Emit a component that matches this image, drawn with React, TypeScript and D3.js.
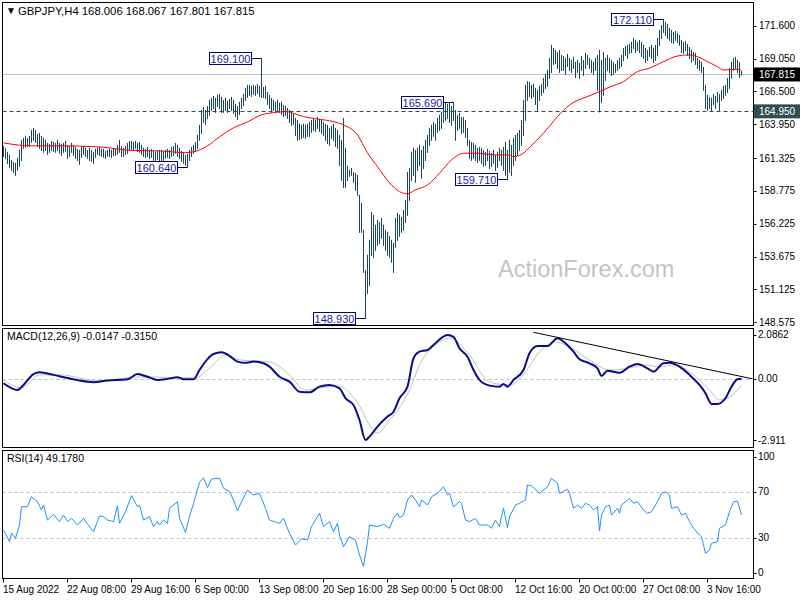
import React from "react";
import * as d3 from "d3";

// ---------- DATA ----------
const highs = [
  162.27,162.12,161.81,161.57,161.18,161.03,160.95,161.34,161.96,162.74,
  162.89,163.05,162.89,163.05,163.51,163.67,163.51,163.20,163.28,163.05,
  162.89,162.74,162.50,162.43,162.66,162.58,162.50,162.74,162.50,162.43,
  162.50,162.66,162.35,162.27,162.50,162.35,162.19,162.04,161.96,162.19,
  162.27,162.12,161.96,162.12,161.96,161.81,162.04,162.12,162.19,162.04,
  162.04,161.88,161.96,162.04,161.96,162.12,162.04,162.35,162.74,162.27,
  162.12,162.27,162.50,162.66,162.66,162.58,162.66,162.50,162.58,162.35,
  162.12,162.04,162.19,161.96,162.04,161.88,161.81,161.88,161.96,161.96,
  161.88,161.96,162.04,161.96,162.19,162.27,162.50,162.35,162.12,161.88,
  161.73,161.57,161.65,161.96,162.19,162.35,162.58,163.12,163.90,165.06,
  165.30,165.06,165.37,165.84,166.00,166.15,166.00,166.23,166.31,166.07,
  165.84,166.00,165.76,165.92,166.07,165.84,165.53,165.37,165.69,166.00,
  166.31,166.77,167.00,167.00,166.93,167.00,166.93,167.08,166.93,169.10,
  166.85,166.93,166.46,166.23,166.00,165.84,165.69,165.84,165.61,165.69,
  165.45,165.37,165.22,165.06,164.91,164.75,164.44,164.29,163.98,163.90,
  163.98,163.90,163.98,164.13,164.29,164.44,164.29,164.52,164.37,164.29,
  164.13,163.98,163.90,163.67,163.82,163.98,163.67,163.51,163.12,162.74,
  164.44,162.12,160.72,160.41,160.56,160.25,160.17,160.02,158.47,157.85,
  155.75,152.65,153.81,154.98,157.15,156.92,156.14,156.53,156.37,156.68,
  156.14,155.75,155.60,155.29,154.98,154.74,156.68,157.07,156.92,156.76,
  157.30,158.08,160.25,160.56,161.81,162.12,161.96,162.12,162.35,161.96,
  162.27,162.74,163.12,163.67,163.90,164.13,163.98,164.44,164.68,164.91,
  165.45,165.60,165.53,165.62,165.37,165.69,165.06,164.68,164.83,164.52,
  164.52,164.29,163.67,162.74,162.58,162.50,162.35,162.12,162.19,162.12,
  161.96,161.81,162.04,161.88,161.73,161.96,161.57,161.81,162.12,161.96,
  162.19,162.58,161.96,162.74,162.35,162.89,163.12,163.28,163.51,164.29,
  165.84,167.00,167.31,167.24,167.00,167.08,166.77,166.62,166.93,167.08,
  167.55,167.86,168.17,169.10,170.11,169.88,169.72,169.56,169.72,169.33,
  169.25,169.10,169.41,169.10,168.94,169.18,168.79,168.94,168.71,169.25,
  168.94,169.49,169.33,169.10,168.94,168.79,169.10,169.33,169.72,168.94,
  169.56,169.10,169.33,169.10,168.94,168.79,168.63,168.94,169.10,169.33,
  169.88,170.03,170.11,170.19,170.34,170.65,170.50,170.34,170.50,170.34,
  170.11,169.88,169.72,169.95,170.11,169.88,170.11,170.65,171.27,171.66,
  172.11,171.89,171.74,171.43,171.27,171.12,171.19,171.04,170.88,170.50,
  170.34,170.42,170.19,169.95,169.72,169.56,169.49,169.10,168.94,168.79,
  168.40,167.00,166.23,166.07,166.00,166.31,166.15,166.46,166.31,166.62,
  166.93,167.00,167.55,168.32,168.79,169.10,169.18,168.94,168.79,168.07,
];
const lows = [
  161.49,161.34,160.95,160.64,160.41,160.25,160.02,160.41,160.72,161.18,
  162.12,162.19,162.27,162.27,162.58,162.74,162.58,162.27,162.12,161.96,
  161.81,161.96,161.65,161.81,161.96,161.88,161.81,161.96,161.73,161.57,
  161.81,161.88,161.34,161.49,161.81,161.57,161.34,161.18,160.87,161.42,
  161.65,161.49,161.34,161.18,161.11,160.95,161.42,161.65,161.57,161.49,
  161.42,161.34,161.49,161.49,161.42,161.57,161.57,161.65,161.81,161.49,
  161.49,161.65,161.73,161.96,162.04,161.96,162.12,161.88,161.81,161.65,
  161.49,161.42,161.49,161.34,161.42,161.18,161.11,161.26,161.18,161.03,
  161.18,161.34,161.42,161.34,161.49,161.57,161.73,161.49,161.34,161.11,
  160.95,160.80,160.64,161.18,161.49,161.73,161.88,162.12,162.74,163.28,
  164.13,163.98,164.44,164.68,165.06,165.22,164.91,165.37,165.22,164.91,
  164.91,165.06,164.91,165.22,165.06,164.83,164.60,164.37,164.75,165.22,
  165.45,165.84,166.07,166.23,166.15,166.31,166.23,166.38,166.15,166.07,
  166.07,166.00,165.53,165.22,164.91,165.06,164.91,165.06,164.91,164.75,
  164.60,164.68,164.44,164.13,163.90,163.98,163.12,162.74,162.81,162.89,
  162.97,162.89,163.05,163.05,163.36,163.51,163.43,163.67,163.43,163.28,
  163.12,162.74,162.50,162.35,162.89,162.74,162.27,162.12,160.80,159.63,
  159.09,159.09,159.63,159.94,160.02,159.48,158.86,158.47,155.60,155.60,
  152.49,148.93,150.86,151.48,153.81,153.66,154.20,154.59,154.74,155.13,
  154.59,154.20,153.81,153.66,153.27,152.49,154.43,154.98,155.29,155.60,
  155.75,156.37,156.92,158.08,159.63,160.02,159.48,160.41,160.80,159.79,
  160.56,161.18,161.81,162.35,162.74,163.05,162.74,163.36,163.51,163.67,
  164.13,164.29,164.44,164.13,163.90,164.29,162.74,163.51,163.67,163.28,
  163.36,162.97,162.35,161.34,161.18,161.34,161.18,161.03,161.18,160.95,
  160.72,160.80,161.18,160.56,160.72,160.95,160.41,160.64,161.18,160.80,
  160.41,160.02,159.71,160.25,160.02,160.80,161.18,161.57,161.96,162.35,
  163.12,164.29,165.84,166.15,166.00,166.15,165.53,165.06,165.84,166.23,
  166.46,166.77,166.93,167.55,168.01,168.63,168.71,168.32,168.01,168.17,
  168.17,167.86,168.48,168.17,168.01,168.32,167.62,168.01,167.55,168.17,
  167.78,168.32,168.63,168.32,168.01,167.86,168.17,166.62,164.95,165.69,
  166.23,167.39,168.17,168.01,167.78,167.86,168.01,168.17,168.32,168.48,
  168.94,169.33,169.10,169.49,169.56,169.88,169.56,169.72,169.56,169.25,
  169.10,168.79,168.94,169.25,169.10,168.79,168.94,169.33,170.11,170.65,
  171.12,170.88,170.65,170.50,170.34,170.26,170.50,170.34,170.11,169.56,
  169.49,169.72,169.33,169.10,168.79,168.94,168.63,168.32,168.17,168.01,
  166.62,165.22,165.06,165.22,165.06,165.53,165.22,165.69,165.06,165.84,
  166.00,166.23,166.46,166.77,167.55,168.17,168.32,168.01,167.62,167.80,
];

const maIdx = [0,14,28,48,64,78,91,95,102,108,115,122,129,135,142,145,150,157,165,170,177,182,187,193,198,202,206,212,218,224,230,237,245,252,255,260,263,270,277,283,292,298,303,310,317,323,330,337,342,347,352,357,360,367,369];
const maVal = [162.50,162.27,162.27,162.19,161.92,161.88,161.75,161.81,162.27,162.97,163.67,164.13,164.68,164.85,164.93,164.80,164.54,164.36,164.15,163.90,163.12,161.73,160.66,159.40,158.72,158.55,158.86,159.24,160.15,161.18,161.70,161.70,161.57,161.57,161.44,161.70,162.15,163.26,164.54,165.45,166.10,166.48,166.83,167.26,168.04,168.30,168.81,169.25,169.33,169.20,168.81,168.42,168.16,168.22,168.11];

const macdIdx = [0,7,10,15,18,25,32,38,45,52,62,67,72,77,82,87,90,95,98,102,105,109,113,117,121,125,130,133,138,143,148,153,158,163,168,171,175,178,181,183,187,192,195,198,202,205,208,212,215,222,225,228,232,235,238,243,248,250,252,255,260,263,267,272,277,280,285,288,293,297,299,302,308,313,317,322,325,330,333,338,343,348,351,354,357,361,364,367,369];
const macdVal = [-0.22,-0.54,-0.30,0.22,0.30,0.18,0.03,-0.09,-0.17,-0.09,-0.03,0.22,0.09,-0.06,-0.01,0.07,-0.03,-0.03,0.41,0.93,1.17,1.25,1.08,0.81,0.75,0.81,0.73,0.57,0.09,-0.14,-0.62,-0.65,-0.38,-0.30,-0.46,-0.93,-1.25,-1.96,-2.91,-2.75,-2.28,-1.80,-1.57,-0.93,-0.38,0.97,1.28,1.36,1.60,2.07,1.98,1.44,1.04,0.41,-0.06,-0.33,-0.38,-0.25,-0.38,-0.06,0.41,1.21,1.55,1.55,1.92,1.76,1.28,0.92,0.73,0.49,0.13,0.37,0.28,0.57,0.70,0.49,0.33,0.73,0.75,0.57,0.18,-0.30,-0.69,-1.20,-1.20,-0.93,-0.38,-0.03,-0.01];

const sigIdx = [0,9,18,28,48,66,73,96,103,111,118,133,143,151,158,168,176,187,193,198,203,208,218,223,233,243,253,261,268,276,283,293,303,313,321,328,336,343,353,358,363,369];
const sigVal = [-0.06,-0.44,0.18,0.18,-0.11,0.08,0.08,0.03,0.51,1.12,0.89,0.79,0.18,-0.54,-0.44,-0.35,-1.01,-2.58,-1.96,-1.39,-0.54,0.65,1.74,1.93,1.12,-0.16,-0.30,0.32,1.27,1.74,1.50,0.89,0.41,0.51,0.65,0.56,0.65,0.32,-0.54,-1.01,-0.87,-0.32];

const rsiIdx = [0,3,4,6,8,9,12,14,17,19,20,22,25,28,30,32,34,37,40,43,45,48,50,52,55,57,58,61,64,67,68,70,73,75,77,78,80,82,83,87,88,91,93,95,98,100,102,104,108,110,113,115,117,119,122,125,128,131,133,138,140,143,146,149,152,154,158,160,163,165,167,168,170,173,176,178,180,182,183,187,190,193,195,197,198,200,202,204,206,208,209,212,214,217,220,222,223,225,228,229,231,233,236,238,242,244,246,248,249,250,252,253,256,258,261,262,264,268,272,274,277,278,282,283,285,287,289,291,293,295,297,298,299,301,303,304,307,308,309,311,313,315,317,320,322,324,327,329,331,333,334,337,339,341,343,345,348,349,351,353,354,357,358,361,363,365,367,369];
const rsiVal = [36.8,26.7,34.0,29.7,41.1,56.9,56.9,65.5,61.2,54.1,58.4,45.4,50.3,44.0,49.7,44.0,46.9,41.1,46.9,39.7,35.3,48.9,48.3,45.4,44.0,57.8,42.6,52.6,66.4,56.9,58.4,45.4,48.3,39.7,44.0,41.1,45.4,42.6,55.5,61.2,46.9,34.8,48.3,59.8,77.9,81.9,73.3,80.8,81.4,72.8,69.8,62.7,53.2,61.2,71.3,67.0,68.4,55.5,45.4,42.6,46.9,34.0,23.9,29.1,28.2,39.7,51.2,39.7,44.0,35.3,42.6,32.5,22.4,31.0,28.2,15.3,5.2,26.7,41.1,39.7,41.7,38.3,46.9,51.2,47.5,49.7,62.7,67.0,62.7,56.9,62.7,58.4,65.5,68.4,74.1,67.0,68.4,56.9,61.2,59.8,45.4,44.0,46.9,41.1,41.1,38.3,45.4,39.7,48.3,55.5,38.8,48.3,58.4,59.8,62.7,75.6,75.0,68.4,74.1,81.4,77.1,68.4,71.9,68.4,55.5,58.4,55.5,59.8,58.4,54.1,56.9,35.9,49.7,56.9,58.4,49.7,55.5,51.2,58.4,61.2,64.1,59.8,61.2,54.1,51.2,52.6,61.2,68.4,69.8,67.0,55.5,56.9,49.7,51.2,44.0,38.3,32.5,31.0,16.7,19.6,25.3,26.7,38.3,41.1,52.6,61.2,61.8,49.7];

const trendIdx = [265, 374.5];
const trendVal = [2.2, -0.01];

const priceTicks = [171.6, 169.05, 166.5, 163.95, 161.325, 158.775, 156.225, 153.675, 151.125, 148.575];
const priceTickLabels = ["171.600","169.050","166.500","163.950","161.325","158.775","156.225","153.675","151.125","148.575"];
const macdTicks = [2.0862, 0, -2.911];
const macdTickLabels = ["2.0862", "0.00", "-2.911"];
const rsiTicks = [100, 70, 30, 0];
const rsiTickLabels = ["100", "70", "30", "0"];
const rsiLevels = [70, 30];

const timeIdx = [0, 32, 64, 96, 128, 160, 192, 224, 256, 288, 320, 352];
const timeLabels = ["15 Aug 2022","22 Aug 08:00","29 Aug 16:00","6 Sep 00:00","13 Sep 08:00","20 Sep 16:00","28 Sep 00:00","5 Oct 08:00","12 Oct 16:00","20 Oct 00:00","27 Oct 08:00","3 Nov 16:00"];

const annIdx = [129, 92, 181, 225, 252, 330];
const annVal = [169.10, 160.64, 148.93, 165.69, 159.71, 172.11];
const annLabels = ["169.100", "160.640", "148.930", "165.690", "159.710", "172.110"];

const lastPrice = 167.815;
const supportLevel = 164.95;
const titleText = "GBPJPY,H4  168.006 168.067 167.801 167.815";
const macdTitle = "MACD(12,26,9) -0.0147 -0.3150";
const rsiTitle = "RSI(14) 49.1780";

// ---------- LAYOUT ----------
const W = 800, H = 600;
const LEFT = 2.5, RIGHT = 753.5;
const main = { top: 2.5, bottom: 325.5 };
const macdP = { top: 328.5, bottom: 447.5 };
const rsiP = { top: 450.5, bottom: 578.5 };
const FONT = "'Liberation Sans', Arial, sans-serif";
const BAR = "#18475b";

export default function App() {
  const x = d3.scaleLinear().domain([0, 369]).range([3.5, 741.5]);
  const yP = d3.scaleLinear().domain([171.6, 148.575]).range([25.7, 322.3]);
  const yM = d3.scaleLinear().domain([2.0862, -2.911]).range([334.7, 440]);
  const yR = d3.scaleLinear().domain([100, 0]).range([456.7, 572.7]);

  const maLine = d3.line<number>().x((_, i) => x(maIdx[i])).y((d) => yP(d)).curve(d3.curveMonotoneX);
  const macdLine = d3.line<number>().x((_, i) => x(macdIdx[i])).y((d) => yM(d)).curve(d3.curveMonotoneX);
  const sigLine = d3.line<number>().x((_, i) => x(sigIdx[i])).y((d) => yM(d)).curve(d3.curveMonotoneX);
  const rsiLine = d3.line<number>().x((_, i) => x(rsiIdx[i])).y((d) => yR(d));
  const trendLine = d3.line<number>().x((_, i) => x(trendIdx[i])).y((d) => yM(d));

  return (
    <svg width={W} height={H} style={{ position: "absolute", left: 0, top: 0, background: "#fff" }} fontFamily={FONT}>
      <defs>
        <clipPath id="cMain"><rect x={LEFT} y={main.top} width={RIGHT - LEFT} height={main.bottom - main.top} /></clipPath>
        <clipPath id="cMacd"><rect x={LEFT} y={macdP.top} width={RIGHT - LEFT} height={macdP.bottom - macdP.top} /></clipPath>
        <clipPath id="cRsi"><rect x={LEFT} y={rsiP.top} width={RIGHT - LEFT} height={rsiP.bottom - rsiP.top} /></clipPath>
      </defs>
      <rect x={0} y={0} width={W} height={H} fill="#fff" />

      {/* watermark */}
      <text x={498} y={277} fontSize={23.5} fill="#c4c4c4">ActionForex.com</text>

      {/* main panel */}
      <g clipPath="url(#cMain)">
        <line x1={LEFT} x2={RIGHT} y1={Math.round(yP(lastPrice)) + 0.5} y2={Math.round(yP(lastPrice)) + 0.5} stroke="#c0c0c0" strokeWidth={1} />
        <line x1={LEFT} x2={RIGHT} y1={Math.round(yP(supportLevel)) + 0.5} y2={Math.round(yP(supportLevel)) + 0.5} stroke="#2f4f4f" strokeWidth={1} strokeDasharray="4,3" />
        {highs.map((h, i) => (
          <line key={i} x1={x(i)} x2={x(i)} y1={yP(h)} y2={yP(lows[i]) + 1} stroke={BAR} strokeWidth={1} />
        ))}
        <path d={maLine(maVal) || ""} fill="none" stroke="#ff0000" strokeWidth={1} />
        {annIdx.map((idx, k) => {
          const bx = x(idx) - 0.5;
          const by = Math.round(yP(annVal[k])) + 0.5;
          const w = 42, h = 12;
          const rx = bx - 10 - w;
          return (
            <g key={k}>
              <line x1={bx - 10} x2={bx + 0.5} y1={by} y2={by} stroke="#000080" strokeWidth={1} />
              <rect x={rx + 0.5} y={by - h / 2} width={w} height={h} fill="#fff" stroke="#000080" strokeWidth={1} />
              <text x={rx + w / 2 + 0.5} y={by + 4} fontSize={11} textAnchor="middle" fill="#1c1ca6">{annLabels[k]}</text>
            </g>
          );
        })}
      </g>
      <text x={6} y={14} fontSize={10} fill="#000">▼</text>
      <text x={18} y={15} fontSize={11.3} fill="#000">{titleText}</text>

      {/* MACD panel */}
      <g clipPath="url(#cMacd)">
        <line x1={LEFT} x2={RIGHT} y1={Math.round(yM(0)) + 0.5} y2={Math.round(yM(0)) + 0.5} stroke="#c0c0c0" strokeDasharray="3,3" />
        <path d={sigLine(sigVal) || ""} fill="none" stroke="#c0c0c0" strokeWidth={1} />
        <path d={macdLine(macdVal) || ""} fill="none" stroke="#0a0a8c" strokeWidth={2} />
        <path d={trendLine(trendVal) || ""} fill="none" stroke="#000" strokeWidth={1} />
      </g>
      <text x={7} y={340} fontSize={10.5} fill="#000">{macdTitle}</text>

      {/* RSI panel */}
      <g clipPath="url(#cRsi)">
        {rsiLevels.map((l) => (
          <line key={l} x1={LEFT} x2={RIGHT} y1={Math.round(yR(l)) + 0.5} y2={Math.round(yR(l)) + 0.5} stroke="#c0c0c0" strokeDasharray="3,3" />
        ))}
        <path d={rsiLine(rsiVal) || ""} fill="none" stroke="#1e90ff" strokeWidth={1} />
      </g>
      <text x={7} y={462} fontSize={10.5} fill="#000">{rsiTitle}</text>

      {/* frames */}
      {[main, macdP, rsiP].map((p, k) => (
        <rect key={k} x={LEFT} y={p.top} width={RIGHT - LEFT} height={p.bottom - p.top} fill="none" stroke="#000" strokeWidth={1} />
      ))}

      {/* price axis */}
      {priceTicks.map((t, k) => (
        <g key={k}>
          <line x1={RIGHT} x2={RIGHT + 3} y1={Math.round(yP(t)) + 0.5} y2={Math.round(yP(t)) + 0.5} stroke="#000" />
          <text x={759} y={yP(t) + 3.5} fontSize={10} fill="#000">{priceTickLabels[k]}</text>
        </g>
      ))}
      <rect x={754} y={yP(lastPrice) - 7} width={46} height={14} fill="#000" />
      <text x={759} y={yP(lastPrice) + 3.5} fontSize={10} fill="#fff">{d3.format(".3f")(lastPrice)}</text>
      <rect x={754} y={yP(supportLevel) - 7} width={46} height={14} fill="#2f4f4f" />
      <text x={759} y={yP(supportLevel) + 3.5} fontSize={10} fill="#fff">{d3.format(".3f")(supportLevel)}</text>

      {macdTicks.map((t, k) => (
        <g key={k}>
          <line x1={RIGHT} x2={RIGHT + 3} y1={Math.round(yM(t)) + 0.5} y2={Math.round(yM(t)) + 0.5} stroke="#000" />
          <text x={758} y={yM(t) + 3.5} fontSize={10} fill="#000">{macdTickLabels[k]}</text>
        </g>
      ))}
      {rsiTicks.map((t, k) => (
        <g key={k}>
          <line x1={RIGHT} x2={RIGHT + 3} y1={Math.round(yR(t)) + 0.5} y2={Math.round(yR(t)) + 0.5} stroke="#000" />
          <text x={758} y={yR(t) + 3.5} fontSize={10} fill="#000">{rsiTickLabels[k]}</text>
        </g>
      ))}

      {/* time axis */}
      {timeIdx.map((t, k) => (
        <g key={k}>
          <line x1={x(t)} x2={x(t)} y1={rsiP.bottom} y2={rsiP.bottom + 4} stroke="#000" />
          <text x={x(t) - 0.5} y={593} fontSize={10} fill="#000">{timeLabels[k]}</text>
        </g>
      ))}
    </svg>
  );
}
